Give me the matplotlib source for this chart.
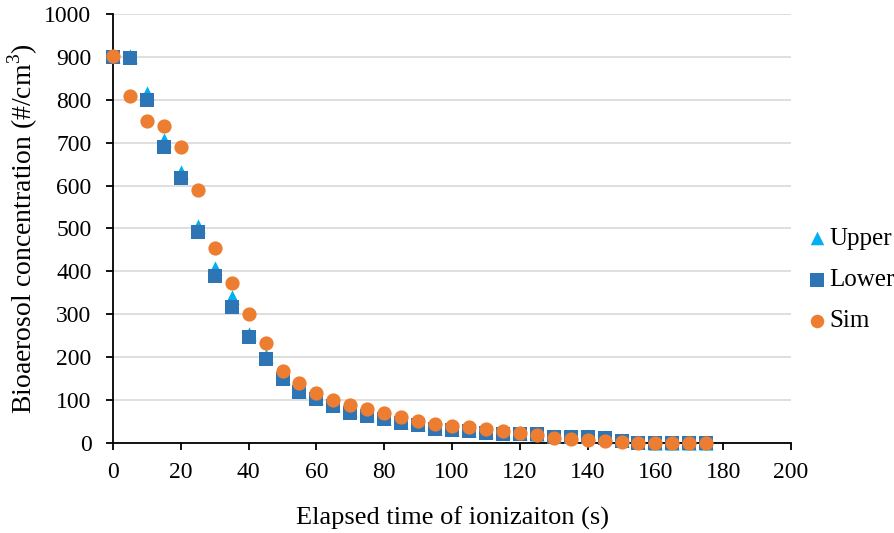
import matplotlib
matplotlib.use("Agg")
import matplotlib.pyplot as plt

plt.rcParams['font.family'] = ['Liberation Serif', 'DejaVu Serif']
plt.rcParams['mathtext.fontset'] = 'custom'
plt.rcParams['mathtext.rm'] = 'Liberation Serif'

time_s = [0, 5, 10, 15, 20, 25, 30, 35, 40, 45, 50, 55, 60, 65, 70, 75, 80, 85,
          90, 95, 100, 105, 110, 115, 120, 125, 130, 135, 140, 145, 150, 155, 160, 165, 170, 175]
upper = [903, 903, 815, 707, 631, 505, 407, 340, 253, 202, 153, 122, 108, 90, 76, 68, 58, 50,
         45, 35, 32, 30, 27, 25, 24, 22, 17, 17, 17, 13, 6, 2, 1, 1, 1, 1]
lower = [900, 898, 800, 691, 618, 492, 389, 317, 248, 196, 149, 118, 103, 86, 70, 64, 55, 47,
         42, 32, 30, 28, 24, 22, 22, 21, 15, 15, 15, 11, 4, 1, 0, 0, 0, 0]
sim = [903, 810, 751, 738, 691, 590, 455, 374, 300, 232, 168, 139, 116, 100, 88, 79, 71, 60,
       51, 44, 40, 37, 33, 27, 23, 19, 12, 9, 7, 5, 3, 1, 1, 1, 1, 1]

fig = plt.figure(figsize=(8.95, 5.33), dpi=100)
ax = fig.add_axes([0.1263, 0.1689, 0.7575, 0.8048])

ax.scatter(time_s, upper, marker='^', s=105, color='#00B0F0', label='Upper', zorder=3,
           linewidths=0, clip_on=False)
ax.scatter(time_s, lower, marker='s', s=100, color='#2E75B6', label='Lower', zorder=4,
           linewidths=0, clip_on=False)
ax.scatter(time_s, sim, marker='o', s=105, color='#ED7D31', label='Sim', zorder=5,
           linewidths=0, clip_on=False)

ax.set_xlim(0, 200)
ax.set_ylim(0, 1000)
ax.set_xticks(range(0, 201, 20))
ax.set_yticks(range(0, 1001, 100))
ax.yaxis.grid(True, color='#D9D9D9', linewidth=1.2)
ax.set_axisbelow(True)
for sp in ['top', 'right']:
    ax.spines[sp].set_visible(False)
for sp in ['left', 'bottom']:
    ax.spines[sp].set_color('black')
    ax.spines[sp].set_linewidth(1.3)
ax.tick_params(axis='both', direction='out', length=5, width=1.3, labelsize=17, colors='black')
ax.tick_params(axis='y', pad=10.5)
ax.tick_params(axis='x', pad=9)

ax.set_xlabel('Elapsed time of ionizaiton (s)', fontsize=19, labelpad=17)
ax.set_ylabel('Bioaerosol concentration (#/cm$^3$)', fontsize=20, labelpad=3)

leg = fig.legend(loc='center left', bbox_to_anchor=(0.9045, 0.4747), frameon=False,
                 fontsize=18, handletextpad=0.18, handlelength=0.6, labelspacing=0.75,
                 borderpad=0, borderaxespad=0, markerscale=0.95)

fig.savefig('out.png', dpi=100)
